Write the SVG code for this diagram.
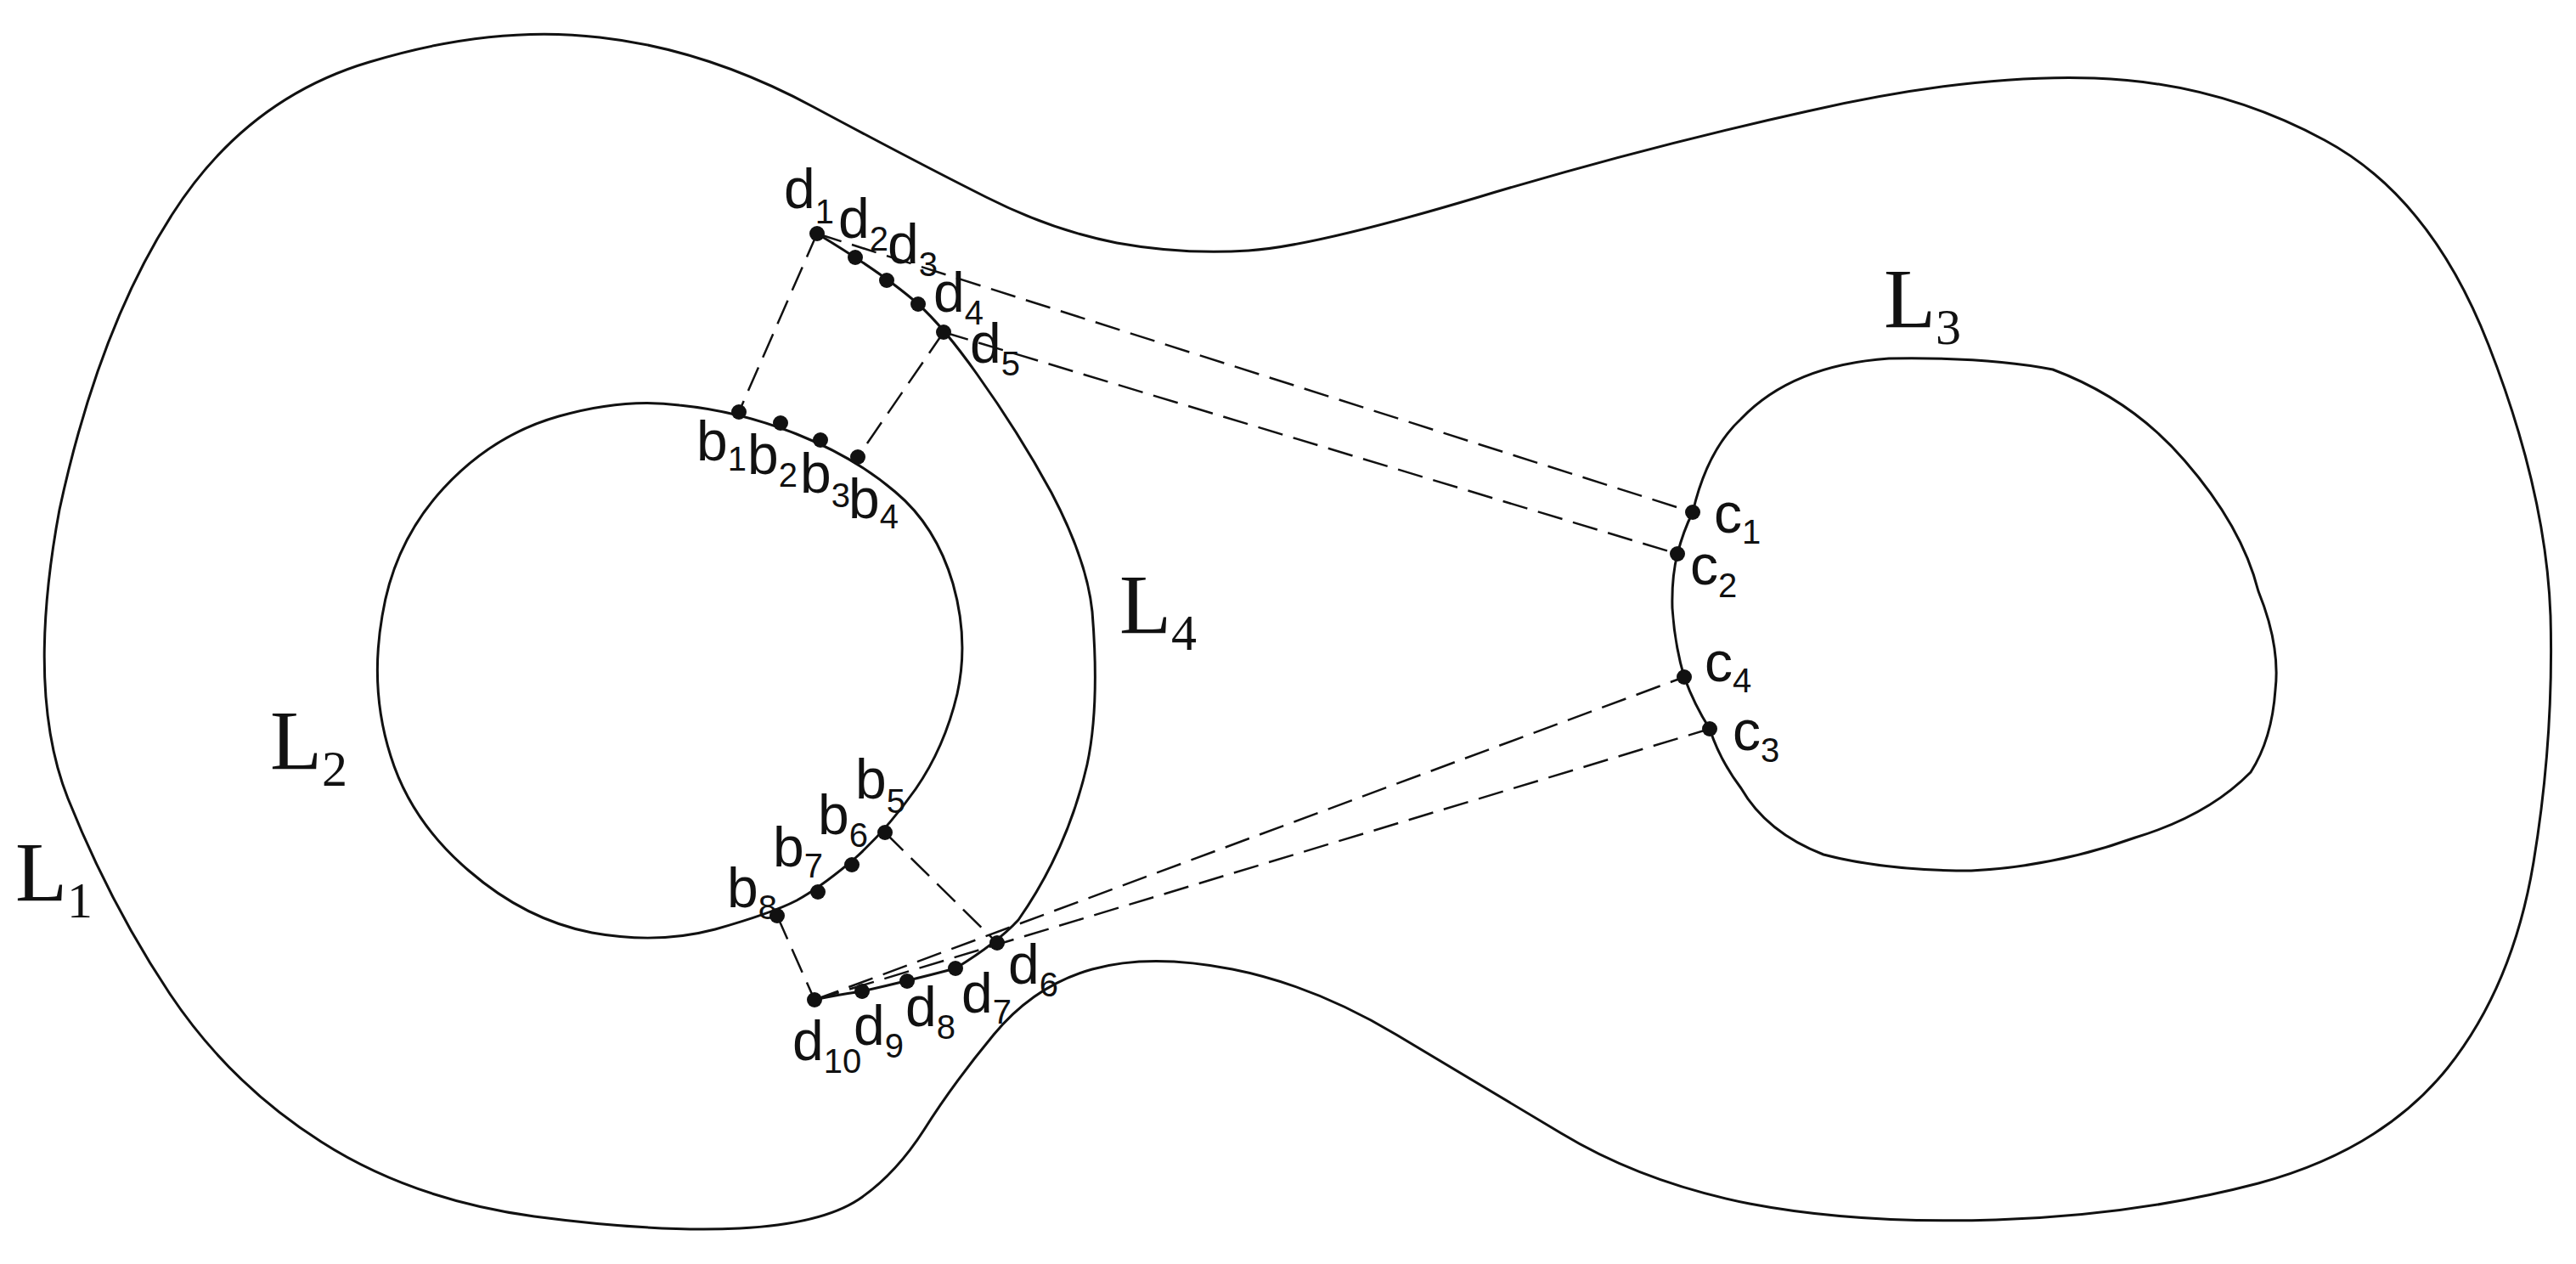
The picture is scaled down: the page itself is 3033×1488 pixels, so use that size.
<svg xmlns="http://www.w3.org/2000/svg" width="3033" height="1488" viewBox="0 0 3033 1488">
<style>
.c{fill:none;stroke:#111;stroke-width:3}
.d{fill:none;stroke:#111;stroke-width:2.5;stroke-dasharray:30 13}
.p{fill:#111}
.t{font-family:"Liberation Sans",Arial,sans-serif;font-size:66px;fill:#111}
.s{font-size:40px}
.L{font-family:"Liberation Serif","Times New Roman",serif;font-size:100px;fill:#111}
.Ls{font-size:60px}
</style>
<rect width="3033" height="1488" fill="#fff"/>
<g id="L1"><path class="c" d="M70,600 Q116,387 203,252 Q290,116 435,73 Q580,29 706,44 Q832,58 958,126 Q1083,193 1161,232 Q1238,271 1315,286 Q1392,300 1470,295 Q1547,290 1741,232 Q1934,174 2128,131 Q2321,87 2466,92 Q2611,97 2737,165 Q2862,232 2930,406 Q2998,580 3003,725 Q3007,870 2983,1015 Q2959,1160 2882,1257 Q2804,1354 2659,1393 Q2514,1431 2350,1436 Q2185,1441 2060,1417 Q1934,1392 1838,1334 Q1741,1276 1644,1218 Q1547,1160 1451,1141 Q1354,1122 1286,1141 Q1218,1160 1170,1218 Q1122,1276 1088,1330 Q1054,1383 1011,1412 Q967,1441 871,1446 Q774,1451 629,1432 Q484,1412 378,1344 Q271,1276 200,1170 Q130,1065 80,940 Q30,815 70,600 Z"/><text class="L" x="18" y="1060">L<tspan class="Ls" dy="20">1</tspan></text></g>
<g id="L2"><path class="c" d="M800,477 Q870,484 938,511 Q1006,538 1054,579 Q1102,619 1122,687 Q1141,754 1127,817 Q1112,880 1078,929 Q1044,977 1006,1011 Q967,1044 938,1060 Q909,1075 842,1094 Q774,1112 697,1098 Q619,1083 552,1025 Q484,967 460,890 Q435,812 450,725 Q464,638 522,575 Q580,512 658,490 Q735,468 800,477 Z"/><text class="L" x="318" y="905">L<tspan class="Ls" dy="20">2</tspan></text></g>
<g id="L3"><path class="c" d="M1993,603 Q2010,530 2050,493 Q2110,430 2224,422 Q2340,420 2417,435 Q2510,470 2572,542 Q2640,620 2659,696 Q2685,760 2679,812 Q2675,870 2650,909 Q2600,960 2514,986 Q2420,1020 2321,1025 Q2220,1025 2147,1006 Q2080,980 2050,928 Q2025,895 2013,858 Q1995,830 1983,797 Q1972,760 1969,716 Q1968,680 1975,652 Q1982,625 1993,603 Z"/><text class="L" x="2218" y="385">L<tspan class="Ls" dy="20">3</tspan></text></g>
<g id="L4"><path class="c" d="M962,275 Q1040,322 1081,358 Q1111,385 1150,440 Q1200,510 1238,580 Q1280,660 1286,720 Q1295,830 1280,900 Q1257,1000 1199,1083 Q1174,1110 1125,1140 Q1068,1155 1015,1167 Q980,1172 959,1177"/><text class="L" x="1318" y="745">L<tspan class="Ls" dy="20">4</tspan></text></g>
<g id="connectors">
<line class="d" x1="962" y1="275" x2="1993" y2="603"/>
<line class="d" x1="1111" y1="391" x2="1975" y2="652"/>
<line class="d" x1="959" y1="1177" x2="1983" y2="797"/>
<line class="d" x1="959" y1="1177" x2="2013" y2="858"/>
<line class="d" x1="962" y1="275" x2="870" y2="485"/>
<line class="d" x1="1111" y1="391" x2="1010" y2="538"/>
<line class="d" x1="1042" y1="980" x2="1174" y2="1110"/>
<line class="d" x1="915" y1="1078" x2="959" y2="1177"/>
</g>
<g id="points">
<circle class="p" cx="962" cy="275" r="9"/><circle class="p" cx="1007" cy="303" r="9"/><circle class="p" cx="1044" cy="330" r="9"/><circle class="p" cx="1081" cy="358" r="9"/><circle class="p" cx="1111" cy="391" r="9"/>
<circle class="p" cx="870" cy="485" r="9"/><circle class="p" cx="919" cy="498" r="9"/><circle class="p" cx="966" cy="518" r="9"/><circle class="p" cx="1010" cy="538" r="9"/>
<circle class="p" cx="1042" cy="980" r="9"/><circle class="p" cx="1003" cy="1018" r="9"/><circle class="p" cx="963" cy="1050" r="9"/><circle class="p" cx="915" cy="1078" r="9"/>
<circle class="p" cx="1174" cy="1110" r="9"/><circle class="p" cx="1125" cy="1140" r="9"/><circle class="p" cx="1068" cy="1155" r="9"/><circle class="p" cx="1015" cy="1167" r="9"/><circle class="p" cx="959" cy="1177" r="9"/>
<circle class="p" cx="1993" cy="603" r="9"/><circle class="p" cx="1975" cy="652" r="9"/><circle class="p" cx="1983" cy="797" r="9"/><circle class="p" cx="2013" cy="858" r="9"/>
</g>
<g id="labels">
<text class="t" x="923" y="245">d<tspan class="s" dy="18">1</tspan></text>
<text class="t" x="987" y="280">d<tspan class="s" dy="15">2</tspan></text>
<text class="t" x="1045" y="310">d<tspan class="s" dy="15">3</tspan></text>
<text class="t" x="1099" y="367">d<tspan class="s" dy="15">4</tspan></text>
<text class="t" x="1142" y="427">d<tspan class="s" dy="15">5</tspan></text>
<text class="t" x="820" y="542">b<tspan class="s" dy="12">1</tspan></text>
<text class="t" x="880" y="558">b<tspan class="s" dy="15">2</tspan></text>
<text class="t" x="942" y="580">b<tspan class="s" dy="17">3</tspan></text>
<text class="t" x="999" y="610">b<tspan class="s" dy="12">4</tspan></text>
<text class="t" x="1007" y="940">b<tspan class="s" dy="17">5</tspan></text>
<text class="t" x="963" y="982">b<tspan class="s" dy="15">6</tspan></text>
<text class="t" x="910" y="1020">b<tspan class="s" dy="13">7</tspan></text>
<text class="t" x="856" y="1068">b<tspan class="s" dy="14">8</tspan></text>
<text class="t" x="1187" y="1158">d<tspan class="s" dy="15">6</tspan></text>
<text class="t" x="1132" y="1192">d<tspan class="s" dy="13">7</tspan></text>
<text class="t" x="1066" y="1208">d<tspan class="s" dy="15">8</tspan></text>
<text class="t" x="1005" y="1230">d<tspan class="s" dy="15">9</tspan></text>
<text class="t" x="933" y="1248">d<tspan class="s" dy="15">10</tspan></text>
<text class="t" x="2018" y="627">c<tspan class="s" dy="13">1</tspan></text>
<text class="t" x="1990" y="688">c<tspan class="s" dy="15">2</tspan></text>
<text class="t" x="2007" y="802">c<tspan class="s" dy="13">4</tspan></text>
<text class="t" x="2040" y="883">c<tspan class="s" dy="14">3</tspan></text>
</g>
</svg>
